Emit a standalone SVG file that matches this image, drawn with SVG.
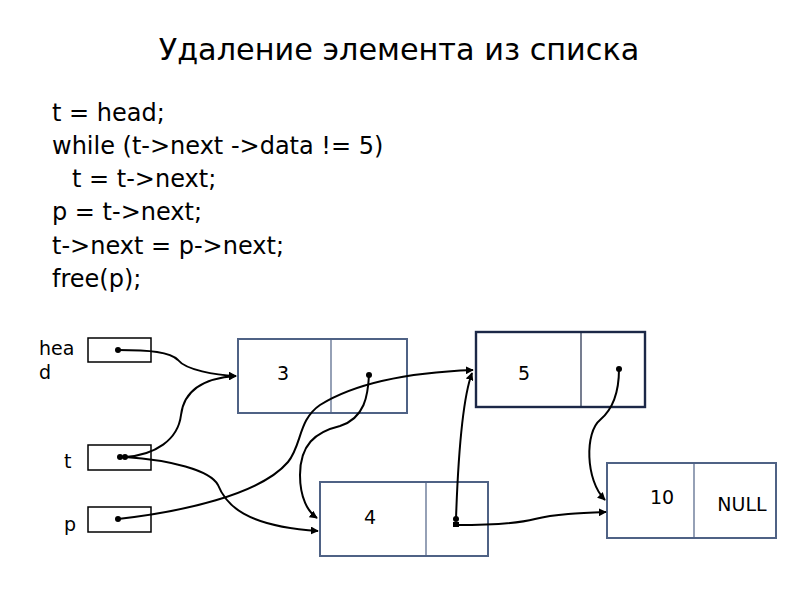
<svg xmlns="http://www.w3.org/2000/svg" width="800" height="600" viewBox="0 0 800 600">
<defs>
<style>
text{font-family:"DejaVu Sans","Noto Sans",sans-serif;fill:#000}
.title{font-size:30.3px}
.code{font-size:24px}
.lbl{font-size:19px}
.ptr{fill:#fff;stroke:#000;stroke-width:1.5}
.node{fill:#fff;stroke:#4f6285;stroke-width:2}
.node.dark{stroke:#1c2847;stroke-width:2.4}
.div{stroke:#4f6285;stroke-width:1.2}
.div.dark{stroke:#1c2847}
.con path{fill:none;stroke:#000;stroke-width:2}
.dot{fill:#000}
</style>
<marker id="arr" viewBox="0 0 10 10" refX="9" refY="5" markerWidth="4" markerHeight="4" orient="auto" markerUnits="strokeWidth">
<path d="M0,0 L10,5 L0,10 z" fill="#000"/>
</marker>
</defs>
<rect width="800" height="600" fill="#fff"/>
<text class="title" x="399" y="60" text-anchor="middle">Удаление элемента из списка</text>
<g id="code" class="code">
<text x="52" y="121">t = head;</text>
<text x="52" y="154">while (t-&gt;next -&gt;data != 5)</text>
<text x="72" y="187">t = t-&gt;next;</text>
<text x="52" y="220">p = t-&gt;next;</text>
<text x="52" y="254">t-&gt;next = p-&gt;next;</text>
<text x="52" y="287">free(p);</text>
</g>
<g id="head">
<rect class="ptr" x="88" y="338" width="63" height="24"/>
<text class="lbl" x="39" y="355">hea</text>
<text class="lbl" x="39" y="379">d</text>
</g>
<g id="t">
<rect class="ptr" x="88" y="445" width="63" height="25"/>
<text class="lbl" x="64" y="468">t</text>
</g>
<g id="p">
<rect class="ptr" x="88" y="507" width="63" height="25"/>
<text class="lbl" x="64" y="531">p</text>
</g>
<g id="n3">
<rect class="node" x="238" y="339" width="169" height="74"/>
<line class="div" x1="331" y1="339" x2="331" y2="413"/>
<text class="lbl" x="283" y="380" text-anchor="middle">3</text>
</g>
<g id="n5">
<rect class="node dark" x="476" y="332" width="169" height="75"/>
<line class="div dark" x1="581" y1="332" x2="581" y2="407"/>
<text class="lbl" x="524" y="380" text-anchor="middle">5</text>
</g>
<g id="n4">
<rect class="node" x="320" y="482" width="168" height="74"/>
<line class="div" x1="426" y1="482" x2="426" y2="556"/>
<text class="lbl" x="370" y="524" text-anchor="middle">4</text>
</g>
<g id="n10">
<rect class="node" x="607" y="463" width="169" height="75"/>
<line class="div" x1="694" y1="463" x2="694" y2="538"/>
<text class="lbl" x="662" y="504" text-anchor="middle">10</text>
<text class="lbl" x="742" y="511" text-anchor="middle">NULL</text>
</g>
<g id="connectors" class="con">
<path marker-end="url(#arr)" d="M118,350 C150,350 170,352 178,360 C186,370 215,375 236,376"/>
<path marker-end="url(#arr)" d="M125,457 C155,455 178,440 181,415 C184,390 205,378 236,376"/>
<path marker-end="url(#arr)" d="M125,457 C170,460 210,470 218,485 C226,505 245,526 318,531"/>
<path marker-end="url(#arr)" d="M118,519 C180,512 260,495 288,462 C302,445 298,420 320,405 C360,380 420,372 473,370"/>
<path marker-end="url(#arr)" d="M369,375 C368,395 365,418 340,426 C315,432 300,445 300,475 C300,498 308,512 317,518"/>
<path marker-end="url(#arr)" d="M456,519 C458,460 462,400 472,373"/>
<path marker-end="url(#arr)" d="M456,525 C490,525 520,523 535,519 C555,514 580,513 606,512"/>
<path marker-end="url(#arr)" d="M619,369 C619,395 612,410 600,420 C585,432 585,480 605,500"/>
<circle class="dot" cx="118" cy="350" r="3"/>
<circle class="dot" cx="120" cy="457" r="3"/>
<circle class="dot" cx="125" cy="457" r="3"/>
<circle class="dot" cx="118" cy="519" r="3"/>
<circle class="dot" cx="369" cy="375" r="3"/>
<circle class="dot" cx="456" cy="519" r="3"/>
<rect class="dot" x="453" y="522" width="6" height="5"/>
<circle class="dot" cx="619" cy="369" r="3"/>
</g>
</svg>
